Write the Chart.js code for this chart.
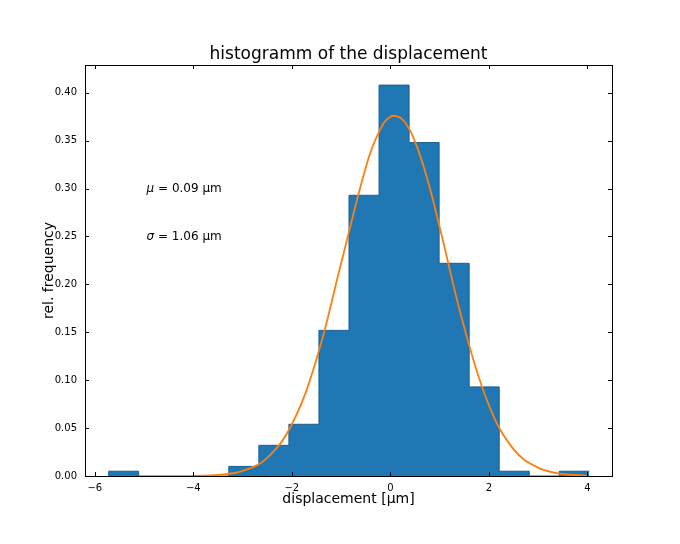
<!DOCTYPE html>
<html><head><meta charset="utf-8">
<script src="https://cdn.jsdelivr.net/npm/chart.js@4"></script>
<style>body{margin:0;background:#fff}</style></head>
<body><canvas id="c" width="680" height="544"></canvas>
<script>
const binEdges = [-5.72,-5.11,-4.50,-3.89,-3.28,-2.67,-2.06,-1.45,-0.84,-0.23,0.38,0.99,1.60,2.21,2.82,3.43,4.04];
const binFreq = [0.005,0,0,0,0.010,0.032,0.054,0.152,0.293,0.408,0.348,0.222,0.093,0.005,0,0.005];
const fitX = [-4,-3.5,-3,-2.5,-2,-1.5,-1,-0.5,-0.25,0,0.25,0.5,0.75,1,1.5,2,2.5,3,3.5,4];
const fitY = [0.0002,0.0012,0.0053,0.019,0.054,0.122,0.222,0.322,0.357,0.375,0.372,0.349,0.310,0.260,0.155,0.074,0.028,0.0087,0.0021,0.0004];
const xTicks = [-6,-4,-2,0,2,4];
const yTicks = [0,0.05,0.10,0.15,0.20,0.25,0.30,0.35,0.40];
const annotations = [{x:-4.95,y:0.30,s:"μ",t:" = 0.09 µm"},{x:-4.95,y:0.25,s:"σ",t:" = 1.06 µm"}];

const histPts = binEdges.map((e,i)=>({x:e,y:i===0?0:binFreq[i-1]}));
const F = '"DejaVu Sans"';
const deco = {
  id:'deco',
  afterDraw(ch){
    const c=ch.ctx,a=ch.chartArea,xs=ch.scales.x,ys=ch.scales.y;
    c.save();
    c.strokeStyle='#000';c.lineWidth=1;
    c.strokeRect(a.left+0.5,a.top+0.5,a.right-a.left,a.bottom-a.top);
    xTicks.forEach(v=>{const p=Math.round(xs.getPixelForValue(v))+0.5;
      c.beginPath();c.moveTo(p,a.bottom);c.lineTo(p,a.bottom-4);c.moveTo(p,a.top);c.lineTo(p,a.top+4);c.stroke();});
    yTicks.forEach(v=>{const p=Math.round(ys.getPixelForValue(v))+0.5;
      c.beginPath();c.moveTo(a.left,p);c.lineTo(a.left+4,p);c.moveTo(a.right,p);c.lineTo(a.right-4,p);c.stroke();});
    c.fillStyle='#000';
    c.font='17px '+F;c.textAlign='center';c.textBaseline='alphabetic';
    c.fillText('histogramm of the displacement',(a.left+a.right)/2,59);
    c.font='14px '+F;
    c.fillText('displacement [µm]',(a.left+a.right)/2,503);
    c.save();c.translate(53,(a.top+a.bottom)/2);c.rotate(-Math.PI/2);c.fillText('rel. frequency',0,0);c.restore();
    c.textAlign='left';c.textBaseline='middle';
    annotations.forEach(n=>{const px=xs.getPixelForValue(n.x),py=ys.getPixelForValue(n.y);
      c.font='italic 12px '+F;c.fillText(n.s,px,py);const w=c.measureText(n.s).width;
      c.font='12px '+F;c.fillText(n.t,px+w,py);});
    c.restore();
  }
};
new Chart(document.getElementById('c'),{
  type:'line',
  data:{datasets:[
    {data:histPts,stepped:'after',fill:'origin',backgroundColor:'#1f77b4',borderColor:'#1a5f94',borderWidth:1,pointRadius:0,order:2},
    {data:fitX.map((x,i)=>({x,y:fitY[i]})),borderColor:'#ff7f0e',borderWidth:1.8,pointRadius:0,tension:0.4,fill:false,order:1}
  ]},
  plugins:[deco],
  options:{responsive:false,animation:false,
    layout:{padding:{top:65,right:68,left:0,bottom:0}},
    plugins:{legend:{display:false},tooltip:{enabled:false},title:{display:false}},
    scales:{
      x:{type:'linear',min:-6.2,max:4.5,afterFit:s=>{s.height=68;},
        afterBuildTicks:s=>{s.ticks=xTicks.map(v=>({value:v}));},
        grid:{display:false,drawTicks:false},border:{display:false},
        ticks:{padding:6,color:'#000',font:{family:'DejaVu Sans',size:10},maxRotation:0,
          callback:v=>String(v).replace('-','\u2212')}},
      y:{min:0,max:0.429,afterFit:s=>{s.width=85;},
        afterBuildTicks:s=>{s.ticks=yTicks.map(v=>({value:v}));},
        grid:{display:false,drawTicks:false},border:{display:false},
        ticks:{padding:8,color:'#000',font:{family:'DejaVu Sans',size:10},callback:v=>v.toFixed(2)}}
    }}
});
</script></body></html>
